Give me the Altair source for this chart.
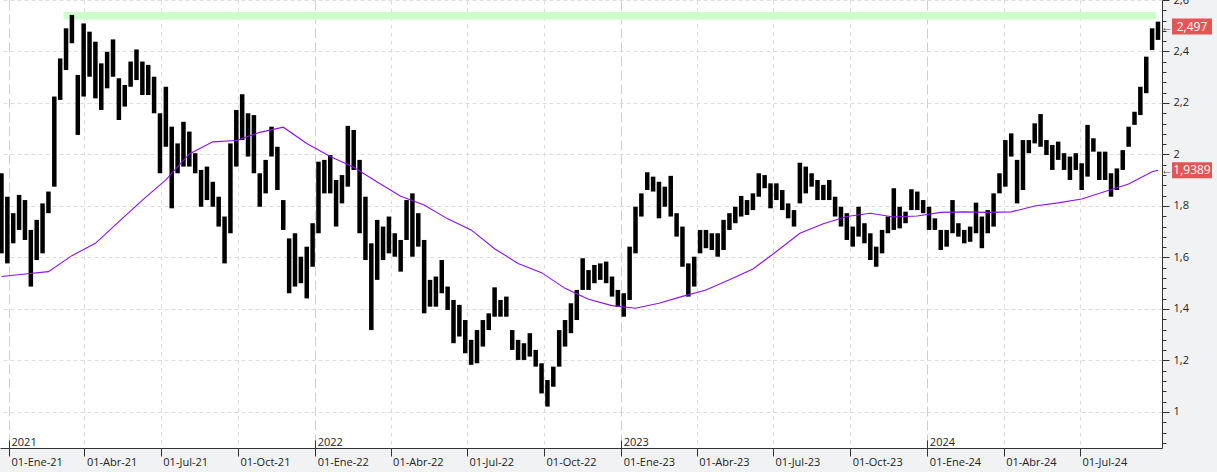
import altair as alt
import pandas as pd

# weekly high / low (one bar per week, starting 2020-12-23)
hi = [1.927,1.836,1.772,1.843,1.823,1.707,1.746,1.810,1.856,2.225,
      2.373,2.490,2.542,2.309,2.509,2.477,2.438,2.354,2.399,2.447,
      2.296,2.270,2.361,2.408,2.361,2.348,2.302,2.160,2.263,2.108,
      2.043,2.127,2.089,2.005,1.940,1.953,1.894,1.836,1.759,2.043,
      2.173,2.234,2.160,2.153,1.927,1.979,2.108,2.030,1.823,1.674,
      1.694,1.603,1.642,1.733,1.972,1.979,1.998,1.901,1.920,2.111,
      2.095,1.979,1.836,1.655,1.746,1.720,1.759,1.694,1.668,1.823,
      1.849,1.772,1.668,1.513,1.526,1.590,1.487,1.435,1.416,1.357,
      1.280,1.318,1.357,1.383,1.484,1.435,1.448,1.318,1.280,1.267,
      1.306,1.241,1.189,1.124,1.176,1.318,1.357,1.422,1.474,1.597,
      1.551,1.571,1.577,1.584,1.526,1.474,1.461,1.642,1.797,1.849,
      1.931,1.914,1.894,1.875,1.917,1.772,1.720,1.577,1.603,1.707,
      1.707,1.694,1.694,1.746,1.772,1.797,1.839,1.823,1.849,1.927,
      1.920,1.888,1.888,1.862,1.810,1.784,1.968,1.953,1.927,1.901,
      1.882,1.901,1.836,1.797,1.772,1.720,1.797,1.733,1.694,1.642,
      1.707,1.759,1.869,1.797,1.778,1.865,1.856,1.823,1.797,1.752,
      1.707,1.707,1.823,1.733,1.707,1.720,1.813,1.759,1.784,1.849,
      1.927,2.056,2.082,1.979,2.056,2.056,2.121,2.157,2.056,2.037,
      2.050,2.005,1.992,2.005,1.966,2.115,2.063,2.011,2.011,1.927,
      1.946,2.017,2.108,2.166,2.263,2.380,2.490,2.516]
lo = [1.616,1.577,1.655,1.707,1.668,1.487,1.590,1.616,1.772,1.875,
      2.212,2.328,2.432,2.076,2.225,2.302,2.218,2.173,2.257,2.302,
      2.134,2.186,2.263,2.289,2.231,2.231,2.160,1.927,2.030,1.791,
      1.927,1.953,1.953,1.927,1.797,1.823,1.797,1.720,1.577,1.694,
      1.953,2.056,1.992,1.927,1.797,1.849,1.992,1.862,1.707,1.461,
      1.487,1.500,1.441,1.564,1.694,1.849,1.849,1.720,1.810,1.875,
      1.940,1.694,1.590,1.318,1.513,1.590,1.616,1.603,1.545,1.668,
      1.603,1.642,1.383,1.409,1.409,1.461,1.396,1.267,1.293,1.228,
      1.183,1.189,1.254,1.318,1.370,1.370,1.370,1.241,1.202,1.202,
      1.215,1.176,1.072,1.021,1.098,1.176,1.254,1.306,1.357,1.474,
      1.474,1.500,1.513,1.500,1.448,1.409,1.370,1.435,1.616,1.759,
      1.862,1.856,1.752,1.797,1.759,1.681,1.564,1.448,1.487,1.616,
      1.636,1.629,1.603,1.629,1.707,1.733,1.759,1.765,1.784,1.836,
      1.869,1.791,1.823,1.784,1.752,1.720,1.810,1.849,1.875,1.823,
      1.823,1.823,1.759,1.720,1.668,1.642,1.681,1.655,1.590,1.564,
      1.616,1.694,1.707,1.713,1.733,1.784,1.784,1.772,1.707,1.707,
      1.629,1.642,1.694,1.681,1.655,1.661,1.694,1.636,1.694,1.720,
      1.849,1.875,1.992,1.810,1.862,2.005,2.043,2.030,1.998,1.940,
      1.979,1.940,1.901,1.940,1.862,1.914,2.011,1.901,1.901,1.836,
      1.862,1.940,2.030,2.115,2.153,2.238,2.406,2.445]

# moving average, sampled every 4 weeks (week index -> value)
ma_week = [0,4,8,12,16,20,24,28,32,36,40,44,48,52,56,60,64,68,72,76,80,84,88,92,96,
           100,104,108,112,116,120,124,128,132,136,140,144,148,152,156,160,164,168,172,
           176,180,184,188,192,196,197]
ma_val = [1.526,1.536,1.545,1.607,1.655,1.739,1.823,1.901,2.002,2.049,2.054,2.086,2.106,
          2.043,1.992,1.950,1.893,1.838,1.804,1.750,1.707,1.634,1.577,1.541,1.480,
          1.438,1.413,1.403,1.422,1.449,1.474,1.513,1.555,1.623,1.694,1.731,1.759,1.772,
          1.757,1.761,1.775,1.777,1.775,1.777,1.800,1.812,1.827,1.856,1.885,1.933,1.939]

tag_values = [2.497, 1.9389]
tag_labels = ["2,497", "1,9389"]
band_lo, band_hi = 2.524, 2.553
band_start, band_end = "2021-03-07", "2024-09-30"
month_abbr = ['Ene','Feb','Mar','Abr','May','Jun','Jul','Ago','Sep','Oct','Nov','Dic']
quarters = [(y, m) for y in (2021, 2022, 2023, 2024) for m in (1, 4, 7, 10)][:-1]
years = [2021, 2022, 2023, 2024]

FONT = "Open Sans"
dates = pd.date_range("2020-12-23", periods=len(hi), freq="7D").strftime("%Y-%m-%d")
bars = pd.DataFrame({"date": dates, "hi": hi, "lo": lo})
ma = pd.DataFrame({"date": [dates[i] for i in ma_week], "v": ma_val})
band = pd.DataFrame({"d1": [band_start], "d2": [band_end], "y1": [band_lo], "y2": [band_hi]})
tags = pd.DataFrame({"v": tag_values, "label": tag_labels})

xscale = alt.Scale(type="utc", domain=[alt.DateTime(year=2020, month=12, date=21, hours=6, utc=True),
                                       alt.DateTime(year=2024, month=10, date=6, hours=19, utc=True)])
yscale = alt.Scale(domain=[0.86, 2.6], nice=False, zero=False)

months_js = "[" + ",".join("'%s'" % m for m in month_abbr) + "]"
x_axis = alt.Axis(
    values=[alt.DateTime(year=y, month=m, date=1, utc=True) for y, m in quarters],
    labelExpr="utcFormat(datum.value, '%d') + '-' + " + months_js + "[utcmonth(datum.value)] + '-' + utcFormat(datum.value, '%y')",
    labelAlign="left", labelBaseline="alphabetic", labelPadding=9, labelOffset=2,
    tickSize=8, tickColor="#333333", domainColor="#333333",
    grid=True,
    gridColor={"condition": {"test": "utcmonth(datum.value) == 0", "value": "#cfcfcf"}, "value": "#dcdcdc"},
    gridDash={"condition": {"test": "utcmonth(datum.value) == 0", "value": [10, 4]}, "value": [4, 4]},
    labelColor="#222222", labelFont=FONT, labelFontSize=11, title=None,
    labelOverlap=False, labelBound=False, labelFlush=False,
)
year_axis = alt.Axis(
    orient="top", offset=-448,
    values=[alt.DateTime(year=y, month=1, date=1, utc=True) for y in years],
    labelExpr="utcFormat(datum.value, '%Y')",
    labelAlign="left", labelBaseline="alphabetic", labelPadding=-5, labelOffset=2,
    tickSize=8, tickColor="#333333", domain=False, grid=False,
    labelColor="#222222", labelFont=FONT, labelFontSize=11, title=None,
    labelOverlap=False, labelBound=False, labelFlush=False,
)
major = "abs(datum.value * 5 - round(datum.value * 5)) < 0.001"
y_axis = alt.Axis(
    orient="right",
    values=[round(0.88 + 0.04 * k, 2) for k in range(44)],
    labelExpr=major + " ? replace(format(datum.value, '.1~f'), '.', ',') : ''",
    tickSize={"condition": {"test": major, "value": 7}, "value": 4},
    gridOpacity={"condition": {"test": major, "value": 1}, "value": 0},
    grid=True, gridColor="#dcdcdc", gridDash=[4, 3],
    tickColor="#333333", domainColor="#333333",
    labelPadding=4, labelColor="#222222", labelFont=FONT, labelFontSize=11, title=None,
    labelOverlap=False, labelBound=False, labelFlush=False,
)

band_layer = alt.Chart(band).mark_rect(color="#ccffcc").encode(
    x=alt.X("d1:T", scale=xscale, axis=year_axis),
    x2="d2:T",
    y=alt.Y("y1:Q", scale=yscale, axis=y_axis),
    y2="y2:Q",
)
bar_layer = alt.Chart(bars).mark_rule(color="black", strokeWidth=4.5).encode(
    x=alt.X("date:T", scale=xscale, axis=x_axis),
    y=alt.Y("lo:Q", scale=yscale, axis=y_axis),
    y2="hi:Q",
)
ma_layer = alt.Chart(ma).mark_line(color="#8b10f5", strokeWidth=1.1).encode(
    x=alt.X("date:T", scale=xscale, axis=None),
    y=alt.Y("v:Q", scale=yscale, axis=y_axis),
)
tag_base = alt.Chart(tags).transform_calculate(b1="datum.v - 0.031", b2="datum.v + 0.031")
tag_box = tag_base.mark_rect(color="#e35656", clip=False).encode(
    x=alt.value(1172), x2=alt.value(1212),
    y=alt.Y("b1:Q", scale=yscale, axis=y_axis), y2="b2:Q",
)
tag_text = tag_base.mark_text(color="white", font=FONT, fontSize=12, align="center", baseline="middle", clip=False).encode(
    x=alt.value(1192), y=alt.Y("v:Q", scale=yscale, axis=y_axis), text="label:N",
)
tag_arrow = tag_base.mark_text(text="←", color="#555555", font=FONT, fontSize=12, align="center", baseline="middle", clip=False).encode(
    x=alt.value(1167), y=alt.Y("v:Q", scale=yscale, axis=y_axis),
)

chart = alt.layer(band_layer, bar_layer, ma_layer, tag_box, tag_text, tag_arrow).resolve_axis(
    x="independent"
).properties(
    width=1162, height=448,
    autosize=alt.AutoSizeParams(type="none"),
    padding={"left": 0, "top": 0, "right": 55, "bottom": 24},
    background="#f1f2f3",
).configure_view(stroke=None, fill="white")

chart.save("out.html", embed_options={"renderer": "svg", "actions": False})
